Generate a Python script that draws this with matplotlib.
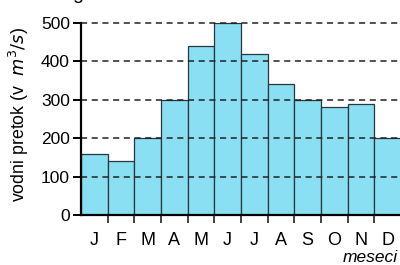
import matplotlib.pyplot as plt
import numpy as np

plt.rcParams['font.family'] = ['Liberation Sans', 'DejaVu Sans']

months = ['J', 'F', 'M', 'A', 'M', 'J', 'J', 'A', 'S', 'O', 'N', 'D']
flow = [160, 140, 200, 300, 440, 500, 420, 340, 300, 280, 290, 200]
yticks = [0, 100, 200, 300, 400, 500]

fig = plt.figure(figsize=(4, 2.65), dpi=100)
ax = fig.add_axes([81 / 400, 50 / 265, 320 / 400, 192 / 265])

x = np.arange(len(months))
ax.bar(x + 0.5, flow, width=1.0, color='#8adff3', edgecolor='#2a3540',
       linewidth=0.9, zorder=2)

for v in yticks[1:]:
    ax.axhline(v, color='#222222', lw=1.1, ls=(0, (4, 3)), zorder=3,
               clip_on=False)

ax.set_xlim(0, 12)
ax.set_ylim(0, 500)
ax.set_yticks(yticks)
ax.set_yticklabels([str(v) for v in yticks], fontsize=12.5)
ax.tick_params(axis='y', length=6, width=1.4, pad=2)

# month labels at bar centres, tick marks at bar boundaries
ax.set_xticks(x + 0.5)
ax.set_xticklabels(months, fontsize=13)
ax.tick_params(axis='x', which='major', length=0, pad=12)
ax.set_xticks(np.arange(1, 12), minor=True)
ax.tick_params(axis='x', which='minor', length=6, width=1.2, color='#222222')

for s in ['top', 'right']:
    ax.spines[s].set_visible(False)
ax.spines['left'].set_linewidth(1.6)
ax.spines['bottom'].set_linewidth(1.6)
ax.spines['left'].set_zorder(4)
ax.spines['bottom'].set_zorder(4)

fig.text(19 / 400, 1 - 115 / 265, 'vodni pretok (v  $\\mathit{m^3/s}$)',
         rotation=90, fontsize=12.8, ha='center', va='center')
fig.text(398 / 400, 1 - 258 / 265, 'meseci', fontsize=12.5, style='italic',
         ha='right', va='center')
# cut-off title fragment at the top edge
fig.text(78 / 400, 1 + 1 / 265, 'g', fontsize=14, ha='center', va='baseline')

fig.savefig('out.png', dpi=100)
